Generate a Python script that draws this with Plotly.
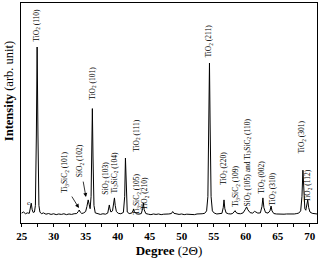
import plotly.graph_objects as go

# XRD pattern (2-theta in degrees, intensity in arbitrary units)
two_theta = [25.0, 25.3, 25.6, 25.9, 26.2, 26.35, 26.5, 26.65, 26.8, 27.0, 27.15, 27.3, 27.42, 27.55, 27.7,
             27.85, 28.1, 28.4, 28.8, 29.2, 29.6, 30.0, 30.4, 30.8, 31.2, 31.6, 32.0, 32.4, 32.8, 33.2,
             33.6, 33.85, 34.0, 34.15, 34.4, 34.7, 35.0, 35.2, 35.4, 35.55, 35.7, 35.85, 35.95, 36.05, 36.15,
             36.3, 36.5, 36.9, 37.3, 37.7, 38.1, 38.45, 38.6, 38.7, 38.8, 38.95, 39.2, 39.38, 39.5, 39.62,
             39.8, 40.1, 40.5, 40.9, 41.1, 41.22, 41.35, 41.5, 41.8, 42.2, 42.4, 42.5, 42.6, 42.9, 43.3,
             43.7, 43.9, 44.02, 44.15, 44.4, 44.8, 45.2, 45.6, 46.0, 46.4, 46.8, 47.2, 47.6, 48.0, 48.4,
             48.6, 48.8, 49.2, 49.6, 50.0, 50.4, 50.8, 51.2, 51.6, 52.0, 52.4, 52.8, 53.2, 53.6, 53.9,
             54.1, 54.25, 54.35, 54.45, 54.6, 54.8, 55.1, 55.5, 55.9, 56.3, 56.5, 56.62, 56.75, 56.95, 57.3,
             57.7, 58.0, 58.2, 58.35, 58.5, 58.8, 59.2, 59.6, 59.95, 60.15, 60.35, 60.7, 61.1, 61.4, 61.6,
             61.9, 62.3, 62.55, 62.7, 62.85, 63.1, 63.5, 63.8, 63.97, 64.12, 64.4, 64.8, 65.2, 65.6, 66.0,
             66.4, 66.8, 67.2, 67.6, 68.0, 68.3, 68.6, 68.8, 68.95, 69.1, 69.25, 69.4, 69.55, 69.7, 69.85,
             70.05, 70.4, 70.8, 71.15]
intensity = [4.5, 5.0, 4.2, 4.6, 4.4, 6.5, 9.0, 6.0, 4.8, 5.0, 8.0, 40.0, 80.0, 40.0, 8.0,
             5.0, 4.2, 4.6, 4.0, 4.3, 3.9, 4.2, 3.8, 4.1, 3.9, 4.2, 3.8, 4.1, 3.9, 4.2,
             4.3, 5.2, 5.9, 5.0, 4.3, 4.6, 5.2, 7.5, 10.5, 8.5, 6.5, 12.0, 35.0, 52.0, 30.0,
             8.0, 4.6, 4.2, 3.9, 4.2, 4.0, 4.5, 7.0, 8.2, 6.5, 5.0, 5.5, 9.0, 11.4, 8.0,
             5.2, 4.4, 4.2, 4.8, 12.0, 29.5, 12.0, 5.0, 4.3, 4.5, 5.5, 6.4, 5.3, 4.2, 4.0,
             4.3, 6.5, 9.1, 6.0, 4.3, 4.0, 3.8, 4.1, 3.9, 4.1, 3.8, 4.0, 3.9, 4.1, 4.3,
             5.2, 4.4, 4.0, 3.9, 4.1, 3.8, 4.0, 3.9, 4.1, 3.8, 4.1, 4.0, 4.2, 4.4, 5.5,
             12.0, 45.0, 72.7, 45.0, 12.0, 5.5, 4.5, 4.1, 4.2, 4.4, 7.0, 10.5, 6.5, 4.6, 4.2,
             4.1, 4.4, 5.2, 5.6, 4.8, 4.3, 4.2, 4.6, 6.2, 7.3, 6.0, 4.7, 4.5, 5.3, 5.0,
             4.5, 4.6, 7.5, 11.4, 7.0, 4.8, 4.5, 5.5, 7.7, 5.5, 4.3, 4.1, 4.0, 4.2, 4.0,
             4.1, 4.0, 4.2, 4.1, 4.3, 4.5, 5.5, 12.0, 24.0, 13.0, 6.5, 5.8, 8.0, 10.5, 7.0,
             5.0, 4.4, 4.2, 4.1]

# Peak labels: text, x position (degrees), y position (intensity units)
label_texts = ["TiO<sub>2</sub> (110)", "TiO<sub>2</sub> (101)", "TiO<sub>2</sub> (211)", "TiO<sub>2</sub> (111)",
               "Ti<sub>3</sub>SiC<sub>2</sub> (101)", "SiO<sub>2</sub> (102)", "SiO<sub>2</sub> (103)",
               "Ti<sub>3</sub>SiC<sub>2</sub> (104)", "Ti<sub>3</sub>SiC<sub>2</sub> (105)", "TiO<sub>2</sub> (210)",
               "TiO<sub>2</sub> (220)", "Ti<sub>3</sub>SiC<sub>2</sub> (109)",
               "SiO<sub>2</sub> (105) and Ti<sub>3</sub>SiC<sub>2</sub> (110)", "TiO<sub>2</sub> (002)",
               "TiO<sub>2</sub> (310)", "TiO<sub>2</sub> (301)", "TiO<sub>2</sub> (112)"]
label_x = [27.35, 36.05, 54.35, 43.0, 31.8, 34.15, 38.05, 39.6, 43.05, 44.3,
           56.6, 58.5, 60.23, 62.6, 64.14, 68.8, 69.75]
label_y = [90.0, 63.4, 82.7, 40.0, 23.2, 28.2, 20.2, 23.0, 13.2, 13.2,
           25.0, 16.8, 27.5, 20.7, 15.2, 39.3, 16.8]

# Arrows: head (x, y) and tail (x, y)
arrow_head_x = [33.95, 35.05]
arrow_head_y = [6.8, 11.8]
arrow_tail_x = [32.7, 34.58]
arrow_tail_y = [12.7, 19.5]

tick_vals = [25, 30, 35, 40, 45, 50, 55, 60, 65, 70]

SERIF = "Liberation Serif"

fig = go.Figure()
fig.add_trace(go.Scatter(x=two_theta, y=intensity, mode="lines",
                         line=dict(color="black", width=1), hoverinfo="skip", showlegend=False))

annotations = []
for t, x, y in zip(label_texts, label_x, label_y):
    annotations.append(dict(x=x, y=y, xref="x", yref="y", text=t, textangle=-90, showarrow=False,
                            xanchor="center", yanchor="middle",
                            font=dict(family=SERIF, size=7.5, color="black")))
annotations.append(dict(x=26.0, y=9.3, xref="x", yref="y", text="c", showarrow=False,
                        font=dict(family=SERIF, size=7, color="black")))
for hx, hy, tx, ty in zip(arrow_head_x, arrow_head_y, arrow_tail_x, arrow_tail_y):
    annotations.append(dict(x=hx, y=hy, xref="x", yref="y", ax=tx, ay=ty, axref="x", ayref="y",
                            text="", showarrow=True, arrowhead=2, arrowsize=1, arrowwidth=0.8,
                            arrowcolor="black"))
annotations.append(dict(x=-0.04, y=0.6, xref="paper", yref="paper",
                        text="<b>Intensity</b> (arb. unit)", textangle=-90, showarrow=False,
                        xanchor="center", yanchor="middle",
                        font=dict(family=SERIF, size=12.5, color="black")))

fig.update_layout(
    width=318, height=259,
    margin=dict(l=21, r=1, t=3, b=36),
    paper_bgcolor="white", plot_bgcolor="white",
    annotations=annotations,
    xaxis=dict(range=[24.9, 71.15], tickvals=tick_vals, ticks="outside", ticklen=3,
               tickwidth=1, tickcolor="black",
               minor=dict(dtick=2.5, tick0=25, ticks="outside", ticklen=3, tickcolor="black"),
               showgrid=False, zeroline=False, showline=True, linecolor="black", linewidth=1,
               mirror=True, tickfont=dict(family=SERIF, size=11, color="black", weight="bold"),
               title=dict(text="<b>Degree</b> (2Θ)", standoff=4,
                          font=dict(family=SERIF, size=13, color="black"))),
    yaxis=dict(range=[0, 100], showticklabels=False, ticks="", showgrid=False, zeroline=False,
               showline=True, linecolor="black", linewidth=1, mirror=True),
)

fig.write_html("out.html")
